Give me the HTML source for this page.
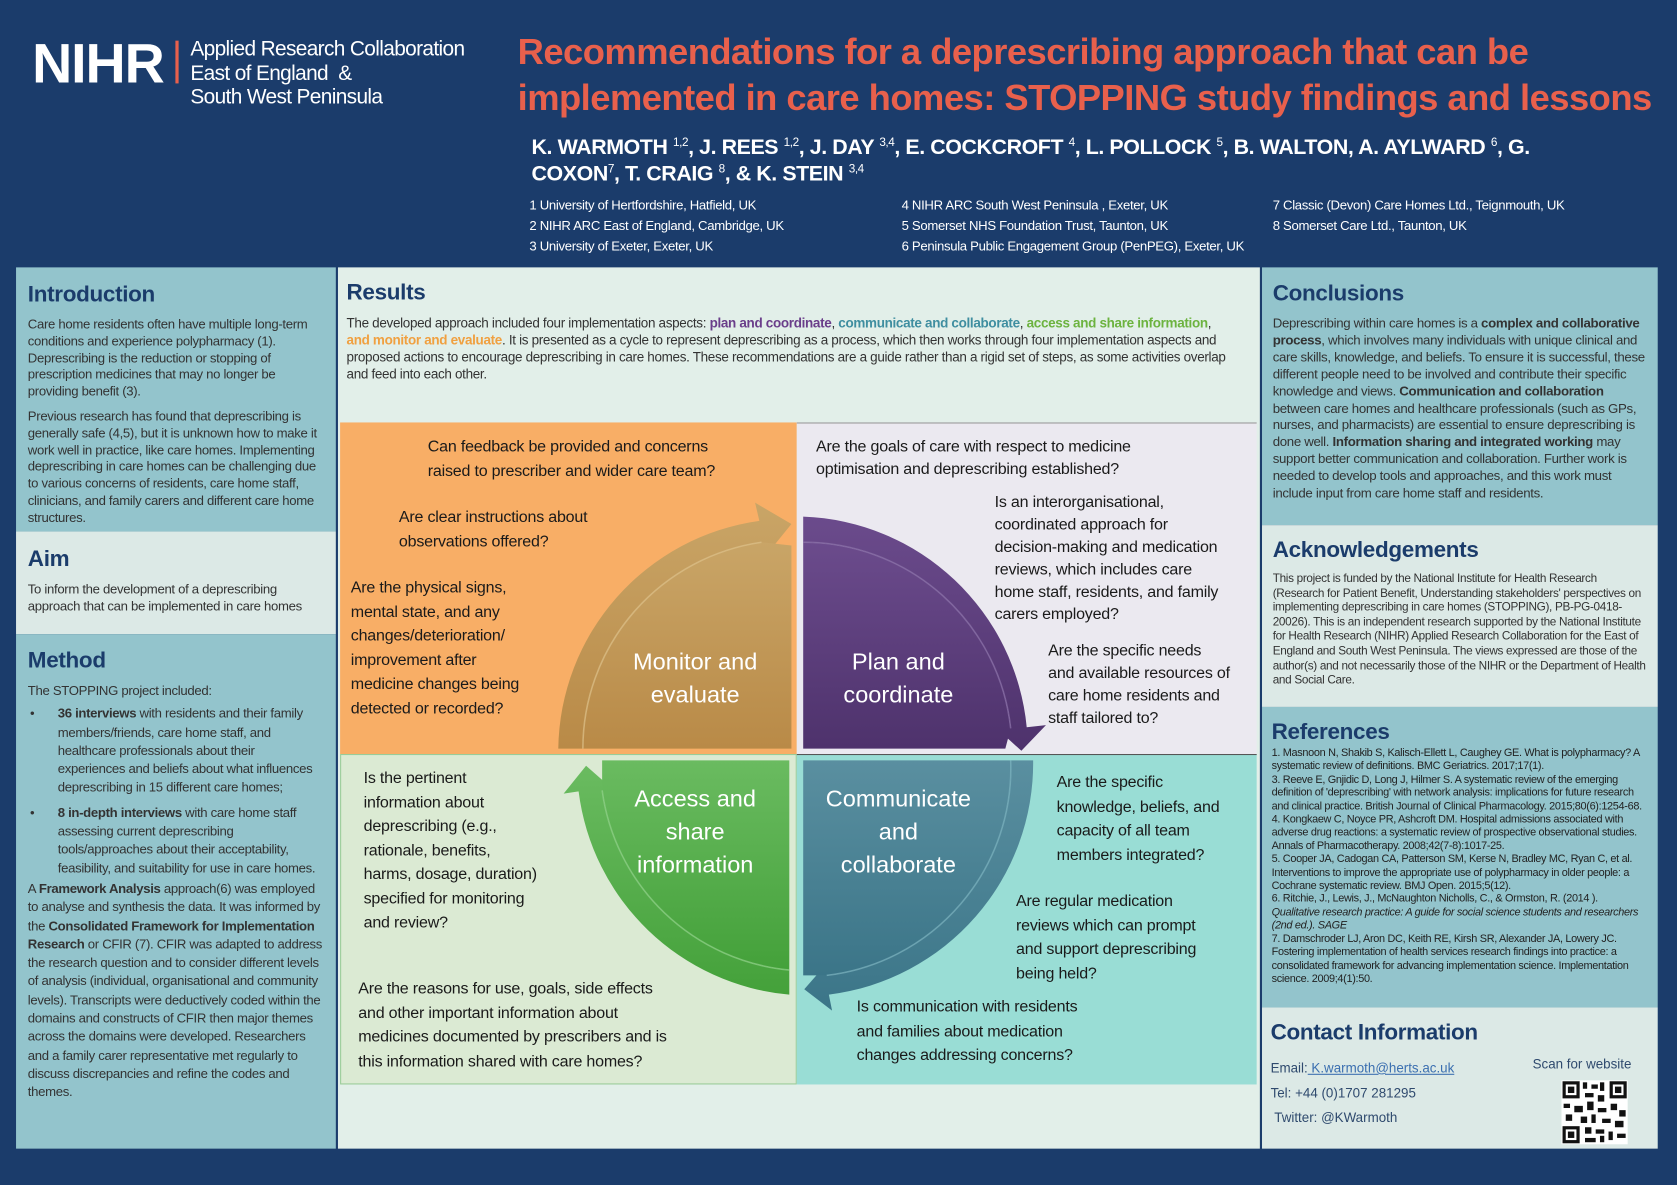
<!DOCTYPE html>
<html><head><meta charset="utf-8"><style>
html,body{margin:0;padding:0;background:#1b3c6b;overflow:hidden}
#stage{position:absolute;left:0;top:0;width:1568px;height:1108px;transform:scale(1.0695);transform-origin:0 0;background:#1b3c6b;font-family:"Liberation Sans",sans-serif;color:#222}
.a{position:absolute}
.box{position:absolute;box-sizing:border-box}
h2{margin:0;font-size:21px;color:#1b3c6b;font-weight:bold;letter-spacing:-0.3px}
.s{font-size:12.3px;line-height:16.2px;color:#333;letter-spacing:-0.3px}
.s p{margin:0 0 7px 0}
.q{position:absolute;font-size:15px;line-height:22.5px;color:#1a1a1a;letter-spacing:-0.2px}
.lab{position:absolute;color:#fff;font-size:22px;line-height:31px;text-align:center}
.ref{font-size:10.2px;line-height:12.4px;color:#222;letter-spacing:-0.3px}
</style></head><body><div id="stage">
<!-- header -->
<div class="a" style="left:30px;top:30px;font-size:52px;font-weight:bold;color:#fff;letter-spacing:-1px">NIHR</div>
<div class="a" style="left:164px;top:38px;width:3px;height:40px;background:#e8604c"></div>
<div class="a" style="left:178px;top:35px;font-size:19.5px;line-height:22.5px;color:#fff;letter-spacing:-0.6px">Applied Research Collaboration<br>East of England &nbsp;&amp;<br>South West Peninsula</div>
<div class="a" style="left:484px;top:28px;font-size:34px;line-height:43px;font-weight:bold;color:#e8604c;letter-spacing:-0.5px;white-space:nowrap">Recommendations for a deprescribing approach that can be<br>implemented in care homes: STOPPING study findings and lessons</div>
<div class="a" style="left:497px;top:126px;font-size:20px;line-height:25px;font-weight:bold;color:#fff;letter-spacing:-0.4px;width:970px">K. WARMOTH <sup style="font-size:11px;font-weight:normal;line-height:0">1,2</sup>, J. REES <sup style="font-size:11px;font-weight:normal;line-height:0">1,2</sup>, J. DAY <sup style="font-size:11px;font-weight:normal;line-height:0">3,4</sup>, E. COCKCROFT <sup style="font-size:11px;font-weight:normal;line-height:0">4</sup>, L. POLLOCK <sup style="font-size:11px;font-weight:normal;line-height:0">5</sup>, B. WALTON, A. AYLWARD <sup style="font-size:11px;font-weight:normal;line-height:0">6</sup>, G. COXON<sup style="font-size:11px;font-weight:normal;line-height:0">7</sup>, T. CRAIG <sup style="font-size:11px;font-weight:normal;line-height:0">8</sup>, &amp; K. STEIN <sup style="font-size:11px;font-weight:normal;line-height:0">3,4</sup></div>
<div class="a" style="left:495px;top:183px;font-size:12.3px;line-height:19px;color:#fff;letter-spacing:-0.3px">1 University of Hertfordshire, Hatfield, UK<br>2 NIHR ARC East of England, Cambridge, UK<br>3 University of Exeter, Exeter, UK</div>
<div class="a" style="left:843px;top:183px;font-size:12.3px;line-height:19px;color:#fff;letter-spacing:-0.3px">4 NIHR ARC South West Peninsula , Exeter, UK<br>5 Somerset NHS Foundation Trust, Taunton, UK<br>6 Peninsula Public Engagement Group (PenPEG), Exeter, UK</div>
<div class="a" style="left:1190px;top:183px;font-size:12.3px;line-height:19px;color:#fff;letter-spacing:-0.3px">7 Classic (Devon) Care Homes Ltd., Teignmouth, UK<br>8 Somerset Care Ltd., Taunton, UK</div>

<!-- left column -->
<div class="box" style="left:15px;top:250px;width:299px;height:247px;background:#93c4cc;padding:14px 10px 0 11px">
<h2>Introduction</h2>
<div class="s" style="margin-top:8px;line-height:15.8px"><p>Care home residents often have multiple long-term conditions and experience polypharmacy (1). Deprescribing is the reduction or stopping of prescription medicines that may no longer be providing benefit (3).</p><p>Previous research has found that deprescribing is generally safe (4,5), but it is unknown how to make it work well in practice, like care homes. Implementing deprescribing in care homes can be challenging due to various concerns of residents, care home staff, clinicians, and family carers and different care home structures.</p></div></div>
<div class="box" style="left:15px;top:497px;width:299px;height:96px;background:#dce9e6;padding:14px 10px 0 11px">
<h2>Aim</h2><div class="s" style="margin-top:8px">To inform the development of a deprescribing approach that can be implemented in care homes</div></div>
<div class="box" style="left:15px;top:593px;width:299px;height:481px;background:#93c4cc;padding:13px 10px 0 11px">
<h2>Method</h2>
<div class="s" style="margin-top:8px;line-height:17.3px"><p style="margin-bottom:4px">The STOPPING project included:</p>
<div style="padding-left:28px;position:relative;margin-bottom:6px"><span style="position:absolute;left:2px">•</span><b>36 interviews</b> with residents and their family members/friends, care home staff, and healthcare professionals about their experiences and beliefs about what influences deprescribing in 15 different care homes;</div>
<div style="padding-left:28px;position:relative;margin-bottom:2px"><span style="position:absolute;left:2px">•</span><b>8 in-depth interviews</b> with care home staff assessing current deprescribing tools/approaches about their acceptability, feasibility, and suitability for use in care homes.</div>
<p>A <b>Framework Analysis</b> approach(6) was employed to analyse and synthesis the data. It was informed by the <b>Consolidated Framework for Implementation Research</b> or CFIR (7). CFIR was adapted to address the research question and to consider different levels of analysis (individual, organisational and community levels). Transcripts were deductively coded within the domains and constructs of CFIR then major themes across the domains were developed. Researchers and a family carer representative met regularly to discuss discrepancies and refine the codes and themes.</p></div></div>

<!-- results -->
<div class="box" style="left:316px;top:250px;width:862px;height:824px;background:#e2efe9;padding:12px 8px 0 8px">
<h2>Results</h2>
<div class="s" style="margin-top:8px;font-size:12.6px;line-height:16px;width:830px">The developed approach included four implementation aspects: <b style="color:#6a3e8a">plan and coordinate</b>, <b style="color:#3f8ea0">communicate and collaborate</b>, <b style="color:#6cb33f">access and share information</b>, <b style="color:#f0a040">and monitor and evaluate</b>. It is presented as a cycle to represent deprescribing as a process, which then works through four implementation aspects and proposed actions to encourage deprescribing in care homes. These recommendations are a guide rather than a rigid set of steps, as some activities overlap and feed into each other.</div></div>

<div class="box" style="left:318px;top:395px;width:427px;height:310px;background:#f8ae66"></div>
<div class="box" style="left:745px;top:395px;width:430px;height:310px;background:#ebe9f0;border-top:1px solid #999"></div>
<div class="box" style="left:318px;top:705px;width:427px;height:309px;background:#dbead3;border:1px solid #9c9"></div>
<div class="box" style="left:745px;top:705px;width:430px;height:309px;background:#99ddd5;border-top:1px solid #555"></div>

<svg class="a" style="left:0;top:0" width="1568" height="1108">
<defs>
<linearGradient id="gt" x1="0" y1="0" x2="0" y2="1"><stop offset="0" stop-color="#c9a567"/><stop offset="1" stop-color="#b98a47"/></linearGradient>
<linearGradient id="gp" x1="0" y1="0" x2="0" y2="1"><stop offset="0" stop-color="#6b4b8c"/><stop offset="1" stop-color="#4e326c"/></linearGradient>
<linearGradient id="gg" x1="0" y1="0" x2="0" y2="1"><stop offset="0" stop-color="#6abb60"/><stop offset="1" stop-color="#44a13a"/></linearGradient>
<linearGradient id="gc" x1="0" y1="0" x2="0" y2="1"><stop offset="0" stop-color="#5a8fa0"/><stop offset="1" stop-color="#3b7588"/></linearGradient>
</defs>
<path d="M740,700 L522,700 A218,218 0 0 1 710,487 L706,470 L740,490 L714,522 L712,507 A195,195 0 0 0 545,700 Z" fill="url(#gt)"/>
<path d="M740,700 L545,700 A195,195 0 0 1 712,507 L740,510 L740,700 Z" fill="url(#gt)"/>
<path d="M545,700 A195,195 0 0 1 712,507" fill="none" stroke="#dcc08a" stroke-width="1.5" opacity="0.7"/>
<path d="M751,483 A218,218 0 0 1 960,680 L978,678 L955,702 L933,682 L945,681 A195,195 0 0 0 751,507 Z" fill="url(#gp)"/>
<path d="M751,507 A195,195 0 0 1 945,681 L940,700 L751,700 Z" fill="url(#gp)"/>
<path d="M751,507 A195,195 0 0 1 945,681" fill="none" stroke="#8a70a8" stroke-width="1.5" opacity="0.7"/>
<path d="M966,711 A218,218 0 0 1 775,930 L778,945 L752,925 L772,902 L773,912 A195,195 0 0 0 945,711 Z" fill="url(#gc)"/>
<path d="M751,711 L945,711 A195,195 0 0 1 773,912 L751,912 Z" fill="url(#gc)"/>
<path d="M945,711 A195,195 0 0 1 773,912" fill="none" stroke="#7ab0be" stroke-width="1.5" opacity="0.7"/>
<path d="M738,930 A218,218 0 0 1 541,740 L527,742 L548,716 L573,738 L563,739 A195,195 0 0 0 738,907 Z" fill="url(#gg)"/>
<path d="M738,711 L563,711 L563,739 A195,195 0 0 0 738,907 Z" fill="url(#gg)"/>
<path d="M563,739 A195,195 0 0 0 738,907" fill="none" stroke="#8fd088" stroke-width="1.5" opacity="0.7"/>
</svg>

<div class="lab" style="left:570px;top:603px;width:160px">Monitor and<br>evaluate</div>
<div class="lab" style="left:760px;top:603px;width:160px">Plan and<br>coordinate</div>
<div class="lab" style="left:570px;top:731px;width:160px">Access and<br>share<br>information</div>
<div class="lab" style="left:755px;top:731px;width:170px">Communicate<br>and<br>collaborate</div>

<div class="q" style="left:400px;top:407px">Can feedback be provided and concerns<br>raised to prescriber and wider care team?</div>
<div class="q" style="left:373px;top:473px">Are clear instructions about<br>observations offered?</div>
<div class="q" style="left:328px;top:539px">Are the physical signs,<br>mental state, and any<br>changes/deterioration/<br>improvement after<br>medicine changes being<br>detected or recorded?</div>
<div class="q" style="left:763px;top:407px;line-height:21px">Are the goals of care with respect to medicine<br>optimisation and deprescribing established?</div>
<div class="q" style="left:930px;top:459px;line-height:21px">Is an interorganisational,<br>coordinated approach for<br>decision-making and medication<br>reviews, which includes care<br>home staff, residents, and family<br>carers employed?</div>
<div class="q" style="left:980px;top:598px;line-height:21px">Are the specific needs<br>and available resources of<br>care home residents and<br>staff tailored to?</div>
<div class="q" style="left:340px;top:717px">Is the pertinent<br>information about<br>deprescribing (e.g.,<br>rationale, benefits,<br>harms, dosage, duration)<br>specified for monitoring<br>and review?</div>
<div class="q" style="left:335px;top:914px">Are the reasons for use, goals, side effects<br>and other important information about<br>medicines documented by prescribers and is<br>this information shared with care homes?</div>
<div class="q" style="left:988px;top:721px">Are the specific<br>knowledge, beliefs, and<br>capacity of all team<br>members integrated?</div>
<div class="q" style="left:950px;top:832px">Are regular medication<br>reviews which can prompt<br>and support deprescribing<br>being held?</div>
<div class="q" style="left:801px;top:931px">Is communication with residents<br>and families about medication<br>changes addressing concerns?</div>

<!-- right column -->
<div class="box" style="left:1180px;top:250px;width:370px;height:241px;background:#93c4cc;padding:13px 10px 0 10px">
<h2>Conclusions</h2>
<div class="s" style="margin-top:8px;font-size:12.4px;line-height:15.9px">Deprescribing within care homes is a <b>complex and collaborative process</b>, which involves many individuals with unique clinical and care skills, knowledge, and beliefs. To ensure it is successful, these different people need to be involved and contribute their specific knowledge and views. <b>Communication and collaboration</b> between care homes and healthcare professionals (such as GPs, nurses, and pharmacists) are essential to ensure deprescribing is done well. <b>Information sharing and integrated working</b> may support better communication and collaboration. Further work is needed to develop tools and approaches, and this work must include input from care home staff and residents.</div></div>
<div class="box" style="left:1180px;top:491px;width:370px;height:170px;background:#dce9e6;padding:12px 10px 0 10px">
<h2>Acknowledgements</h2>
<div class="s" style="margin-top:8px;font-size:11px;line-height:13.6px">This project is funded by the National Institute for Health Research (Research for Patient Benefit, Understanding stakeholders' perspectives on implementing deprescribing in care homes (STOPPING), PB-PG-0418-20026). This is an independent research supported by the National Institute for Health Research (NIHR) Applied Research Collaboration for the East of England and South West Peninsula. The views expressed are those of the author(s) and not necessarily those of the NIHR or the Department of Health and Social Care.</div></div>
<div class="box" style="left:1180px;top:661px;width:370px;height:281px;background:#93c4cc;padding:12px 10px 0 9px">
<h2>References</h2>
<div class="ref" style="margin-top:2px">1. Masnoon N, Shakib S, Kalisch-Ellett L, Caughey GE. What is polypharmacy? A systematic review of definitions. BMC Geriatrics. 2017;17(1).<br>3. Reeve E, Gnjidic D, Long J, Hilmer S. A systematic review of the emerging definition of 'deprescribing' with network analysis: implications for future research and clinical practice. British Journal of Clinical Pharmacology. 2015;80(6):1254-68.<br>4. Kongkaew C, Noyce PR, Ashcroft DM. Hospital admissions associated with adverse drug reactions: a systematic review of prospective observational studies. Annals of Pharmacotherapy. 2008;42(7-8):1017-25.<br>5. Cooper JA, Cadogan CA, Patterson SM, Kerse N, Bradley MC, Ryan C, et al. Interventions to improve the appropriate use of polypharmacy in older people: a Cochrane systematic review. BMJ Open. 2015;5(12).<br>6. Ritchie, J., Lewis, J., McNaughton Nicholls, C., &amp; Ormston, R. (2014 ). <i>Qualitative research practice: A guide for social science students and researchers (2nd ed.). SAGE</i><br>7. Damschroder LJ, Aron DC, Keith RE, Kirsh SR, Alexander JA, Lowery JC. Fostering implementation of health services research findings into practice: a consolidated framework for advancing implementation science. Implementation science. 2009;4(1):50.</div></div>
<div class="box" style="left:1180px;top:942px;width:370px;height:132px;background:#dce9e6;padding:12px 10px 0 8px">
<h2>Contact Information</h2>
<div class="a" style="left:8px;top:46px;font-size:12.5px;line-height:23px;color:#2f4a6e">Email:<span style="color:#3b6fb0;text-decoration:underline"> K.warmoth@herts.ac.uk</span><br>Tel: +44 (0)1707 281295<br>&nbsp;Twitter: @KWarmoth</div>
<div class="a" style="left:253px;top:46px;font-size:12.5px;color:#2f4a6e">Scan for website</div>
<svg class="a" style="left:280px;top:68px" width="62" height="60"><rect width="62" height="60" fill="#fff"/>
<g fill="#111"><rect x="1" y="1" width="16" height="16"/><rect x="45" y="1" width="16" height="16"/><rect x="1" y="43" width="16" height="16"/>
<rect x="4" y="4" width="10" height="10" fill="#fff"/><rect x="48" y="4" width="10" height="10" fill="#fff"/><rect x="4" y="46" width="10" height="10" fill="#fff"/>
<rect x="6" y="6" width="6" height="6"/><rect x="50" y="6" width="6" height="6"/><rect x="6" y="48" width="6" height="6"/>
<rect x="20" y="2" width="4" height="6"/><rect x="28" y="4" width="6" height="4"/><rect x="36" y="2" width="4" height="8"/><rect x="22" y="12" width="8" height="4"/><rect x="34" y="14" width="6" height="6"/>
<rect x="2" y="22" width="6" height="4"/><rect x="12" y="24" width="8" height="6"/><rect x="24" y="20" width="6" height="8"/><rect x="34" y="26" width="8" height="4"/><rect x="46" y="22" width="6" height="6"/><rect x="54" y="28" width="6" height="6"/>
<rect x="4" y="32" width="6" height="6"/><rect x="18" y="34" width="6" height="6"/><rect x="28" y="32" width="4" height="8"/><rect x="38" y="36" width="8" height="4"/><rect x="50" y="38" width="8" height="6"/>
<rect x="22" y="44" width="6" height="6"/><rect x="32" y="46" width="8" height="4"/><rect x="44" y="48" width="4" height="8"/><rect x="52" y="50" width="8" height="4"/><rect x="22" y="54" width="10" height="4"/><rect x="36" y="52" width="4" height="6"/></g></svg>
</div>
</div></body></html>
